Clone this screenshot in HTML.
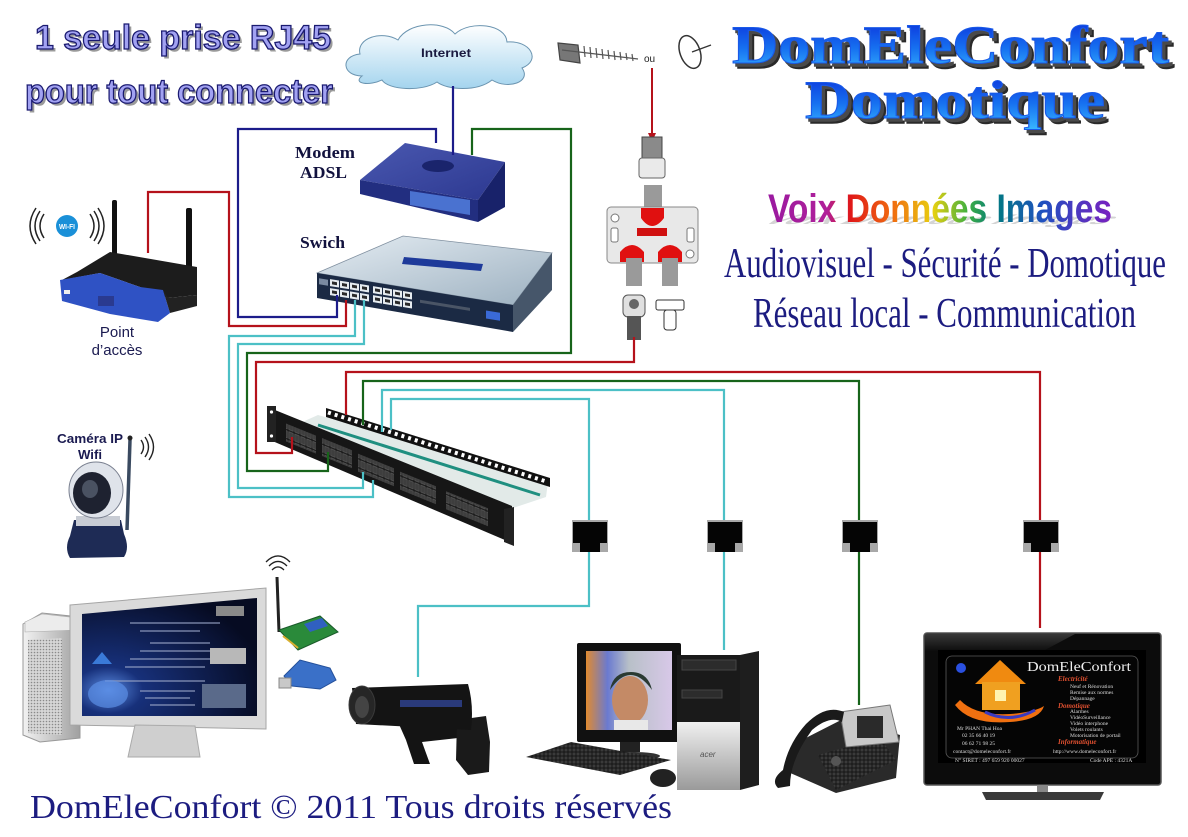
<!DOCTYPE html>
<html><head><meta charset="utf-8"><title>DomEleConfort</title>
<style>html,body{margin:0;padding:0;background:#fff;overflow:hidden}svg{display:block}</style>
</head><body>
<svg xmlns="http://www.w3.org/2000/svg" width="1188" height="837" viewBox="0 0 1188 837">
<defs>
<linearGradient id="cloudG" x1="0" y1="0" x2="0" y2="1"><stop offset="0" stop-color="#ffffff"/><stop offset="1" stop-color="#a4d4ee"/></linearGradient>
<linearGradient id="titleBlue" x1="0" y1="0" x2="0" y2="1"><stop offset="0" stop-color="#0a2ad8"/><stop offset="0.55" stop-color="#1670f0"/><stop offset="1" stop-color="#38b8ff"/></linearGradient>
<linearGradient id="rainbow" x1="768" y1="0" x2="1112" y2="0" gradientUnits="userSpaceOnUse">
<stop offset="0" stop-color="#9a1aa0"/><stop offset="0.17" stop-color="#b0209a"/><stop offset="0.24" stop-color="#e01818"/><stop offset="0.36" stop-color="#f06a10"/><stop offset="0.48" stop-color="#e8d010"/><stop offset="0.58" stop-color="#40b040"/><stop offset="0.66" stop-color="#007a80"/><stop offset="0.8" stop-color="#2050c0"/><stop offset="1" stop-color="#7a20c0"/>
</linearGradient>
<linearGradient id="swTop" x1="0" y1="0" x2="1" y2="1"><stop offset="0" stop-color="#e4ecf2"/><stop offset="1" stop-color="#9cb0c0"/></linearGradient>
<linearGradient id="modTop" x1="0" y1="0" x2="1" y2="1"><stop offset="0" stop-color="#4a58b0"/><stop offset="1" stop-color="#2c3890"/></linearGradient>
<linearGradient id="silver" x1="0" y1="0" x2="1" y2="0"><stop offset="0" stop-color="#f2f2f2"/><stop offset="1" stop-color="#a0a0a0"/></linearGradient>
<linearGradient id="silverV" x1="0" y1="0" x2="0" y2="1"><stop offset="0" stop-color="#f0f0f0"/><stop offset="1" stop-color="#9a9a9a"/></linearGradient>
<radialGradient id="scrL" cx="0.15" cy="0.78" r="0.9"><stop offset="0" stop-color="#5a8ae0"/><stop offset="0.22" stop-color="#17307a"/><stop offset="1" stop-color="#060b22"/></radialGradient>
<linearGradient id="kidBg" x1="0" y1="0" x2="1" y2="0"><stop offset="0" stop-color="#e08a30"/><stop offset="0.25" stop-color="#6a7ad0"/><stop offset="0.5" stop-color="#b8c0c8"/><stop offset="1" stop-color="#d8c8e8"/></linearGradient>
<linearGradient id="tvGloss" x1="0" y1="0" x2="0" y2="1"><stop offset="0" stop-color="#4a4a4a"/><stop offset="1" stop-color="#0a0a0a"/></linearGradient>
<pattern id="grille" width="3" height="3" patternUnits="userSpaceOnUse"><rect width="3" height="3" fill="#d6d6d6"/><circle cx="1.5" cy="1.5" r="0.8" fill="#8a8a8a"/></pattern>
<pattern id="ports" width="6" height="9" patternUnits="userSpaceOnUse"><rect width="6" height="9" fill="#1a1a1a"/><rect x="0.8" y="1" width="4.4" height="7" fill="#3e3e3e" stroke="#7a7a7a" stroke-width="0.4"/></pattern>
<pattern id="keys" width="4" height="4" patternUnits="userSpaceOnUse"><rect width="4" height="4" fill="#151515"/><rect x="0.5" y="0.5" width="3" height="3" fill="#3a3a3a"/></pattern>
</defs>
<rect width="1188" height="837" fill="#fff"/>

<!-- Title left -->
<g font-family="Liberation Sans, Arial, sans-serif" font-weight="bold" font-size="34">
<text x="37.5" y="51.5" textLength="296" lengthAdjust="spacingAndGlyphs" fill="#9a9a9a">1 seule prise RJ45</text>
<text x="35" y="49" textLength="296" lengthAdjust="spacingAndGlyphs" fill="#a2a2f2" stroke="#1a1a70" stroke-width="1.3">1 seule prise RJ45</text>
<text x="27.5" y="105.5" textLength="308" lengthAdjust="spacingAndGlyphs" fill="#9a9a9a">pour tout connecter</text>
<text x="25" y="103" textLength="308" lengthAdjust="spacingAndGlyphs" fill="#a2a2f2" stroke="#1a1a70" stroke-width="1.3">pour tout connecter</text>
</g>

<!-- Title right -->
<g font-family="Liberation Serif, Times New Roman, serif" font-weight="bold" font-size="54">
<text x="737" y="68" textLength="437" lengthAdjust="spacingAndGlyphs" fill="#2a2a2a" stroke="#2a2a2a" stroke-width="1.5">DomEleConfort</text>
<text x="735" y="66" textLength="437" lengthAdjust="spacingAndGlyphs" fill="#4a4a4a" stroke="#4a4a4a" stroke-width="1.5">DomEleConfort</text>
<text x="732" y="63" textLength="437" lengthAdjust="spacingAndGlyphs" fill="url(#titleBlue)" stroke="#1a5ae8" stroke-width="1">DomEleConfort</text>
<text x="810" y="123" textLength="300" lengthAdjust="spacingAndGlyphs" fill="#2a2a2a" stroke="#2a2a2a" stroke-width="1.5">Domotique</text>
<text x="808" y="121" textLength="300" lengthAdjust="spacingAndGlyphs" fill="#4a4a4a" stroke="#4a4a4a" stroke-width="1.5">Domotique</text>
<text x="805" y="118" textLength="300" lengthAdjust="spacingAndGlyphs" fill="url(#titleBlue)" stroke="#1a5ae8" stroke-width="1">Domotique</text>
</g>

<!-- Voix Données Images -->
<g font-family="Liberation Sans, Arial, sans-serif" font-weight="bold" font-size="40">
<text x="768" y="222" textLength="344" lengthAdjust="spacingAndGlyphs" fill="#d4d4d4" transform="matrix(1 0 -0.8 0.35 169.6 146.3)">Voix Données Images</text>
<text x="768" y="222" textLength="344" lengthAdjust="spacingAndGlyphs" fill="url(#rainbow)">Voix Données Images</text>
</g>
<g font-family="Liberation Serif, Times New Roman, serif" font-size="42" fill="#1c1c80">
<text x="724" y="277" textLength="442" lengthAdjust="spacingAndGlyphs">Audiovisuel - Sécurité - Domotique</text>
<text x="753" y="327" textLength="383" lengthAdjust="spacingAndGlyphs">Réseau local - Communication</text>
</g>

<!-- Cloud -->
<path d="M362,76 C342,76 340,56 360,54 C356,38 382,30 398,40 C408,22 444,20 455,34 C470,20 506,24 507,42 C530,40 542,60 522,68 C532,82 508,90 492,80 C477,92 447,90 437,82 C422,92 388,90 382,80 C370,86 352,84 362,76 Z" fill="url(#cloudG)" stroke="#6a94b0" stroke-width="1"/>
<text x="421" y="57" textLength="50" lengthAdjust="spacingAndGlyphs" font-family="Liberation Sans, Arial, sans-serif" font-weight="bold" font-size="12" fill="#1a1a40">Internet</text>

<!-- Antenna / ou / dish -->
<g stroke="#555" stroke-width="1.2">
<polygon points="558,43 578,45 580,63 560,60" fill="#777" stroke="#444"/>
<line x1="562" y1="50" x2="638" y2="59"/>
<line x1="584" y1="46" x2="585" y2="57"/><line x1="590" y1="47" x2="591" y2="58"/><line x1="596" y1="48" x2="597" y2="58"/><line x1="602" y1="49" x2="603" y2="59"/><line x1="608" y1="50" x2="609" y2="59"/><line x1="614" y1="51" x2="615" y2="60"/><line x1="620" y1="52" x2="621" y2="60"/><line x1="626" y1="53" x2="627" y2="60"/><line x1="632" y1="54" x2="633" y2="61"/>
</g>
<text x="644" y="62" font-family="Liberation Sans, Arial, sans-serif" font-size="10" fill="#222">ou</text>
<ellipse cx="690" cy="52" rx="10" ry="17" transform="rotate(-20 690 52)" fill="#fff" stroke="#333" stroke-width="1.5"/>
<line x1="692" y1="52" x2="711" y2="45" stroke="#333" stroke-width="1.3"/>

<!-- Splitter -->
<line x1="652" y1="68" x2="652" y2="138" stroke="#b5121b" stroke-width="2"/>
<polygon points="648,133 656,133 652,142" fill="#b5121b"/>
<rect x="642" y="137" width="20" height="22" fill="#8a8a8a" stroke="#444"/>
<rect x="639" y="158" width="26" height="20" rx="3" fill="#eaeaea" stroke="#666"/>
<rect x="644" y="185" width="18" height="28" fill="#9a9a9a"/>
<rect x="607" y="207" width="91" height="56" rx="4" fill="#e8e8e8" stroke="#888"/>
<circle cx="615" cy="218" r="4" fill="#fff" stroke="#777"/><circle cx="690" cy="254" r="4" fill="#fff" stroke="#777"/>
<rect x="611" y="228" width="7" height="14" rx="2" fill="#fff" stroke="#777"/><rect x="687" y="228" width="7" height="14" rx="2" fill="#fff" stroke="#777"/>
<path d="M641,208 L664,208 L664,218 Q652,234 641,218 Z" fill="#e01010"/>
<rect x="637" y="228" width="30" height="8" fill="#d01010"/>
<path d="M620,262 L620,252 Q632,238 644,252 L644,262 Z" fill="#e01010"/>
<path d="M658,262 L658,252 Q670,238 682,252 L682,262 Z" fill="#e01010"/>
<rect x="626" y="258" width="16" height="28" fill="#9a9a9a"/>
<rect x="662" y="258" width="16" height="28" fill="#9a9a9a"/>
<rect x="623" y="295" width="22" height="22" rx="5" fill="#e0e0e0" stroke="#555"/>
<circle cx="634" cy="304" r="5" fill="#666"/>
<rect x="627" y="316" width="14" height="24" fill="#555"/>
<rect x="656" y="300" width="28" height="10" rx="2" fill="#fff" stroke="#333"/>
<rect x="664" y="310" width="12" height="20" rx="3" fill="#fff" stroke="#333"/>

<!-- Modem -->
<polygon points="360,180 405,143 505,162 478,200" fill="url(#modTop)"/>
<polygon points="360,180 478,200 478,222 360,194" fill="#222e80"/>
<polygon points="478,200 505,162 505,207 478,222" fill="#18226a"/>
<polygon points="410,191 470,200 470,215 410,205" fill="#4a72d0"/>
<ellipse cx="438" cy="166" rx="16" ry="6" fill="#1a246c"/>
<text x="295" y="158" textLength="60" lengthAdjust="spacingAndGlyphs" font-family="Liberation Serif, Times New Roman, serif" font-weight="bold" font-size="17" fill="#12123e">Modem</text>
<text x="300" y="178" textLength="47" lengthAdjust="spacingAndGlyphs" font-family="Liberation Serif, Times New Roman, serif" font-weight="bold" font-size="17" fill="#12123e">ADSL</text>
<text x="300" y="248" textLength="45" lengthAdjust="spacingAndGlyphs" font-family="Liberation Serif, Times New Roman, serif" font-weight="bold" font-size="17" fill="#12123e">Swich</text>

<!-- Switch -->
<polygon points="317,273 403,236 552,253 513,305" fill="url(#swTop)" stroke="#8090a0" stroke-width="0.8"/>
<polygon points="404,257 483,264 481,271 402,264" fill="#1e3a9a"/>
<polygon points="513,305 552,253 552,290 513,332" fill="#46566a"/>
<polygon points="317,273 513,305 513,332 317,298" fill="#1b2a44"/>
<g transform="matrix(1 0.163 0 1 0 -51.7)">
<rect x="319" y="278" width="9" height="6" fill="#7a8aa0"/>
<g fill="#e6ecf0"><rect x="330" y="277" width="9" height="7"/><rect x="340" y="277" width="9" height="7"/><rect x="350" y="277" width="9" height="7"/><rect x="360" y="277" width="9" height="7"/><rect x="373" y="277" width="9" height="7"/><rect x="383" y="277" width="9" height="7"/><rect x="393" y="277" width="9" height="7"/><rect x="403" y="277" width="9" height="7"/>
<rect x="330" y="286" width="9" height="7"/><rect x="340" y="286" width="9" height="7"/><rect x="350" y="286" width="9" height="7"/><rect x="360" y="286" width="9" height="7"/><rect x="373" y="286" width="9" height="7"/><rect x="383" y="286" width="9" height="7"/><rect x="393" y="286" width="9" height="7"/><rect x="403" y="286" width="9" height="7"/></g>
<g fill="#2a2a2a"><rect x="332" y="279" width="5" height="3"/><rect x="342" y="279" width="5" height="3"/><rect x="352" y="279" width="5" height="3"/><rect x="362" y="279" width="5" height="3"/><rect x="375" y="279" width="5" height="3"/><rect x="385" y="279" width="5" height="3"/><rect x="395" y="279" width="5" height="3"/><rect x="405" y="279" width="5" height="3"/>
<rect x="332" y="288" width="5" height="3"/><rect x="342" y="288" width="5" height="3"/><rect x="352" y="288" width="5" height="3"/><rect x="362" y="288" width="5" height="3"/><rect x="375" y="288" width="5" height="3"/><rect x="385" y="288" width="5" height="3"/><rect x="395" y="288" width="5" height="3"/><rect x="405" y="288" width="5" height="3"/></g>
<rect x="420" y="283" width="50" height="3" fill="#4a5566"/>
<rect x="486" y="283" width="14" height="8" fill="#3a6ad8"/>
</g>

<!-- Access point -->
<rect x="112" y="200" width="5" height="58" rx="2" fill="#111"/>
<rect x="186" y="208" width="6" height="62" rx="2" fill="#111"/>
<polygon points="77,272 110,252 197,267 197,295 168,298 140,287 100,273 62,280" fill="#1c1c1c"/>
<polygon points="60,280 100,273 140,287 163,290 170,313 158,322 110,314 62,301" fill="#2f52c4"/>
<polygon points="163,290 168,298 197,295 197,306 170,313" fill="#222"/>
<rect x="64" y="290" width="6" height="4" fill="#eee"/>
<rect x="98" y="296" width="16" height="10" fill="#2a3a90"/>
<path d="M44,214 q-8,12 0,24 M40,211 q-10,15 0,30 M36,208 q-12,18 0,36 M90,214 q8,12 0,24 M94,211 q10,15 0,30 M98,208 q12,18 0,36" fill="none" stroke="#222" stroke-width="1.5"/>
<circle cx="67" cy="226" r="11" fill="#1a90d8"/>
<text x="59" y="229" textLength="16" lengthAdjust="spacingAndGlyphs" font-family="Liberation Sans, Arial, sans-serif" font-weight="bold" font-size="7" fill="#fff">WI-FI</text>
<text x="117" y="337" text-anchor="middle" font-family="Liberation Sans, Arial, sans-serif" font-size="15" fill="#1a1a50">Point</text>
<text x="117" y="355" text-anchor="middle" font-family="Liberation Sans, Arial, sans-serif" font-size="15" fill="#1a1a50">d’accès</text>

<!-- IP Camera -->
<text x="57" y="443" textLength="66" lengthAdjust="spacingAndGlyphs" font-family="Liberation Sans, Arial, sans-serif" font-weight="bold" font-size="12.5" fill="#1a1a50">Caméra IP</text>
<text x="78" y="459" textLength="24" lengthAdjust="spacingAndGlyphs" font-family="Liberation Sans, Arial, sans-serif" font-weight="bold" font-size="12.5" fill="#1a1a50">Wifi</text>
<path d="M141,440 q5,7 0,14 M145,437 q7,10 0,20 M149,434 q9,13 0,26" fill="none" stroke="#222" stroke-width="1.4"/>
<line x1="130" y1="440" x2="127" y2="530" stroke="#3a4a60" stroke-width="3.5"/>
<circle cx="130" cy="438" r="2.5" fill="#222"/>
<path d="M74,520 L121,520 L124,534 Q130,548 124,557 L70,558 Q64,548 70,536 Z" fill="#1e2b55"/>
<rect x="76" y="516" width="44" height="10" fill="#c8ccd4"/>
<ellipse cx="96" cy="490" rx="27" ry="28" fill="#dfe3ea" stroke="#7a8090"/>
<ellipse cx="92" cy="493" rx="19" ry="21" fill="#1e2230"/>
<ellipse cx="90" cy="489" rx="8" ry="9" fill="#4a5262"/>

<!-- Patch panel -->
<polygon points="318,415 548,482 546,497 510,509 300,423" fill="#e2eae8"/>
<polygon points="326,408 550,478 550,487 326,417" fill="#111"/>
<line x1="328" y1="412.5" x2="548" y2="482" stroke="#fff" stroke-width="4" stroke-dasharray="3 4"/>
<line x1="318" y1="425" x2="540" y2="495" stroke="#1f8f80" stroke-width="3"/>
<polygon points="270,408 512,506 512,543 270,440" fill="#161616"/>
<g transform="matrix(1 0.405 0 1 0 -109.35)">
<rect x="286" y="417" width="30" height="18" fill="url(#ports)"/>
<rect x="322" y="417" width="30" height="18" fill="url(#ports)"/>
<rect x="358" y="418" width="36" height="18" fill="url(#ports)"/>
<rect x="400" y="419" width="36" height="18" fill="url(#ports)"/>
<rect x="446" y="420" width="42" height="18" fill="url(#ports)"/>
</g>
<rect x="267" y="406" width="9" height="36" fill="#222"/>
<circle cx="271.5" cy="412" r="1.6" fill="#fff"/><circle cx="271.5" cy="436" r="1.6" fill="#fff"/>
<polygon points="504,509 514,507 514,546 504,542" fill="#222"/>

<!-- Left computer -->
<polygon points="23,624 42,613 80,617 80,738 40,742 23,735" fill="url(#silver)" stroke="#999"/>
<polygon points="28,640 62,638 62,735 28,733" fill="url(#grille)"/>
<polygon points="25,622 42,614 78,618 78,630 25,632" fill="#ececec" stroke="#aaa" stroke-width="0.6"/>
<polygon points="70,605 266,588 266,729 70,725" fill="#dadada" stroke="#a5a5a5"/>
<polygon points="82,614 257,598 257,716 82,716" fill="url(#scrL)"/>
<g fill="#9aa6c8" opacity="0.55">
<rect x="130" y="622" width="90" height="2"/><rect x="140" y="630" width="60" height="2"/><rect x="150" y="642" width="60" height="2"/><rect x="140" y="650" width="75" height="2"/><rect x="130" y="658" width="85" height="2"/><rect x="125" y="666" width="80" height="2"/><rect x="105" y="680" width="100" height="2"/><rect x="140" y="690" width="55" height="2"/><rect x="145" y="697" width="45" height="2"/><rect x="150" y="704" width="45" height="2"/>
</g>
<rect x="216" y="606" width="28" height="10" fill="#8a8a8a"/>
<rect x="210" y="648" width="36" height="16" fill="#b8b8b8"/>
<rect x="202" y="684" width="44" height="24" fill="#5a6a8a"/>
<ellipse cx="108" cy="694" rx="20" ry="14" fill="#5b8ee6" opacity="0.7"/>
<path d="M92,664 l10,-12 l10,12 z" fill="#3a7ad8"/>
<polygon points="135,725 195,726 200,757 128,757" fill="#cfcfcf" stroke="#aaa"/>

<!-- PCI card + USB -->
<path d="M272,570 q6,-6 12,0 M269,566 q9,-9 18,0 M266,562 q12,-12 24,0" fill="none" stroke="#222" stroke-width="1.3"/>
<line x1="277" y1="577" x2="279" y2="632" stroke="#222" stroke-width="3"/>
<polygon points="279,630 320,616 338,632 298,650" fill="#2a8a3a" stroke="#1a5a2a"/>
<polygon points="304,624 322,618 328,626 310,632" fill="#3060c0"/>
<line x1="283" y1="636" x2="298" y2="648" stroke="#d8b030" stroke-width="2"/>
<polygon points="284,676 300,660 330,668 336,680 320,689 292,686" fill="#3a70c8" stroke="#24509a"/>
<rect x="279" y="678" width="12" height="10" fill="#c8c8c8" stroke="#888"/>

<!-- Bullet camera -->
<path d="M398,722 L406,740 L414,764 L430,764 L422,742 L458,738 L458,722 Z" fill="#141414"/>
<path d="M457,720 L486,716 L490,742 L489,772 L468,775 L456,760 Z" fill="#1a1a1a"/>
<path d="M352,688 L468,684 Q474,705 471,730 L356,724 Z" fill="#141414"/>
<rect x="400" y="700" width="62" height="7" fill="#2a3a7a"/>
<ellipse cx="362" cy="705" rx="13" ry="19" fill="#262626" stroke="#3a3a3a"/>
<ellipse cx="362" cy="707" rx="7" ry="11" fill="#444"/>

<!-- Desktop -->
<rect x="577" y="643" width="104" height="99" rx="2" fill="#111"/>
<rect x="586" y="651" width="86" height="79" fill="url(#kidBg)"/>
<ellipse cx="630" cy="700" rx="18" ry="24" fill="#c48a66"/>
<path d="M610,690 q20,-30 42,0 q-4,-18 -21,-18 q-18,0 -21,18z" fill="#2a3a32"/>
<rect x="614" y="720" width="34" height="10" fill="#e8e8e8"/>
<rect x="620" y="742" width="20" height="10" fill="#222"/>
<ellipse cx="632" cy="756" rx="28" ry="4" fill="#333"/>
<polygon points="740,655 759,651 759,785 740,790" fill="#1e1e1e"/>
<rect x="677" y="655" width="63" height="135" fill="#1a1a1a"/>
<rect x="682" y="660" width="54" height="10" fill="#2c2c2c" stroke="#444"/>
<rect x="682" y="690" width="40" height="8" fill="#2c2c2c" stroke="#444"/>
<rect x="677" y="722" width="63" height="68" fill="url(#silverV)"/>
<text x="700" y="757" font-family="Liberation Sans, Arial, sans-serif" font-style="italic" font-size="8" fill="#555">acer</text>
<polygon points="526,757 571,742 671,760 620,775" fill="url(#keys)"/>
<ellipse cx="663" cy="778" rx="13" ry="9" fill="#222"/>

<!-- Phone -->
<polygon points="792,745 845,718 900,735 896,778 836,793 788,772" fill="#2a2a2a"/>
<polygon points="818,755 880,738 896,760 836,790" fill="url(#keys)"/>
<polygon points="840,712 890,705 899,742 846,747" fill="#c8c8c8" stroke="#777"/>
<rect x="857" y="716" width="26" height="22" fill="#2a2a2a"/>
<path d="M783,770 Q770,780 778,788 L790,786 Q790,760 812,730 Q830,715 842,722 L844,712 Q826,704 806,724 Q788,744 783,770 Z" fill="#1a1a1a"/>
<circle cx="836" cy="761" r="5" fill="#555"/>

<!-- TV -->
<rect x="924" y="633" width="237" height="152" rx="3" fill="#0c0c0c" stroke="#555" stroke-width="1.5"/>
<polygon points="925,634 1075,634 1045,650 925,652" fill="url(#tvGloss)" opacity="0.7"/>
<rect x="938" y="650" width="208" height="113" fill="#000"/>
<rect x="946" y="656" width="192" height="102" rx="6" fill="#050505" stroke="#5a5a5a" stroke-width="0.8"/>
<circle cx="961" cy="668" r="5" fill="#2a50e0"/>
<path d="M955,705 Q970,725 1010,722 Q1040,720 1044,706 Q1035,712 1010,714 Q975,716 960,700 Z" fill="#f07010"/>
<polygon points="975,684 1000,660 1026,684" fill="#f08a10"/>
<rect x="982" y="682" width="38" height="28" fill="#f0a020"/>
<rect x="995" y="690" width="11" height="11" fill="#fff3b0"/>
<path d="M985,712 q25,12 50,-2" fill="none" stroke="#3a3ac0" stroke-width="3"/>
<text x="1027" y="671" textLength="104" lengthAdjust="spacingAndGlyphs" font-family="Liberation Serif, Times New Roman, serif" font-size="14" fill="#eee">DomEleConfort</text>
<g font-family="Liberation Serif, Times New Roman, serif" fill="#ddd" font-size="5.5">
<text x="1058" y="681" font-style="italic" font-weight="bold" fill="#e05030" font-size="7">Electricité</text>
<text x="1070" y="688">Neuf et Rénovation</text>
<text x="1070" y="694">Remise aux normes</text>
<text x="1070" y="700">Dépannage</text>
<text x="1058" y="708" font-style="italic" font-weight="bold" fill="#e05030" font-size="7">Domotique</text>
<text x="1070" y="713">Alarmes</text>
<text x="1070" y="719">VidéoSurveillance</text>
<text x="1070" y="725">Vidéo interphone</text>
<text x="1070" y="731">Volets roulants</text>
<text x="1070" y="737">Motorisation de portail</text>
<text x="1058" y="744" font-style="italic" font-weight="bold" fill="#e05030" font-size="7">Informatique</text>
<text x="957" y="730">Mr PHAN Thai Hoa</text>
<text x="962" y="737">02 35 66 40 19</text>
<text x="962" y="745">06 62 71 98 25</text>
<text x="953" y="753">contact@domeleconfort.fr</text>
<text x="1053" y="753">http://www.domeleconfort.fr</text>
<text x="955" y="762">N° SIRET : 497 659 920 00027</text>
<text x="1090" y="762">Code APE : 4321A</text>
</g>
<rect x="1037" y="785" width="11" height="7" fill="#888"/>
<polygon points="982,792 1104,792 1100,800 986,800" fill="#3a3a3a"/>

<!-- Wires -->
<g fill="none" stroke-width="2.2" stroke-linejoin="miter">
<path d="M453,86 V155" stroke="#1c1c8a"/>
<path d="M436,143 V129 H238 V317 H337 V295" stroke="#1c1c8a"/>
<path d="M472,155 V129 H571 V353 H247 V471 H328 V452" stroke="#17641a"/>
<path d="M148,253 V192 H229 V326 H346 V300" stroke="#b5121b"/>
<path d="M355,300 V336 H229 V497 H373 V480" stroke="#4cc0c6"/>
<path d="M364,300 V344 H238 V488 H363 V472" stroke="#4cc0c6"/>
<path d="M634,337 V362 H256 V453 H292 V437" stroke="#b5121b"/>
<path d="M346,415 V372 H1040 V522" stroke="#b5121b"/>
<path d="M1040,552 V628" stroke="#b5121b"/>
<path d="M363,425 V381 H859 V522" stroke="#17641a"/>
<path d="M859,552 V705" stroke="#17641a"/>
<path d="M382,432 V390 H724 V522" stroke="#4cc0c6"/>
<path d="M724,552 V650" stroke="#4cc0c6"/>
<path d="M391,430 V399 H589 V522" stroke="#4cc0c6"/>
<path d="M589,552 V606 H418 V677" stroke="#4cc0c6"/>
</g>

<!-- RJ45 jacks -->
<g transform="translate(589,0)"><rect x="-17" y="520" width="36" height="32" fill="#a8a8a8"/><rect x="-16" y="522" width="34" height="21" fill="#050505"/><rect x="-9" y="543" width="20" height="9" fill="#050505"/></g>
<g transform="translate(724,0)"><rect x="-17" y="520" width="36" height="32" fill="#a8a8a8"/><rect x="-16" y="522" width="34" height="21" fill="#050505"/><rect x="-9" y="543" width="20" height="9" fill="#050505"/></g>
<g transform="translate(859,0)"><rect x="-17" y="520" width="36" height="32" fill="#a8a8a8"/><rect x="-16" y="522" width="34" height="21" fill="#050505"/><rect x="-9" y="543" width="20" height="9" fill="#050505"/></g>
<g transform="translate(1040,0)"><rect x="-17" y="520" width="36" height="32" fill="#a8a8a8"/><rect x="-16" y="522" width="34" height="21" fill="#050505"/><rect x="-9" y="543" width="20" height="9" fill="#050505"/></g>

<!-- Footer -->
<text x="30" y="818" textLength="642" lengthAdjust="spacingAndGlyphs" font-family="Liberation Serif, Times New Roman, serif" font-size="34" fill="#1c1c80">DomEleConfort © 2011 Tous droits réservés</text>
</svg>
</body></html>
